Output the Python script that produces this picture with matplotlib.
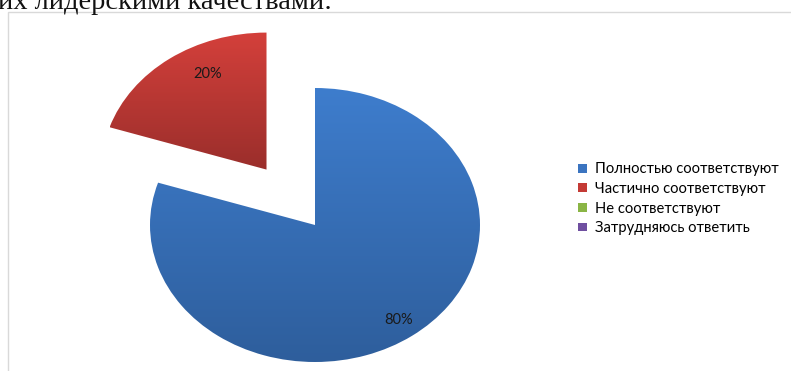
import numpy as np
import matplotlib
matplotlib.use("Agg")
import matplotlib.pyplot as plt
from matplotlib.patches import Patch, Rectangle
from matplotlib.colors import LinearSegmentedColormap

# data
categories = ["Полностью соответствуют", "Частично соответствуют",
              "Не соответствуют", "Затрудняюсь ответить"]
values = [80, 20, 0, 0]
legend_colors = ["#3b74c0", "#c43a35", "#8ab545", "#6f4fa0"]
grad_top = ["#3e7dcd", "#d4403b"]
grad_bottom = ["#2e5e9c", "#9a2e2b"]
explode = [0, 0.5]

W, H = 791, 371
fig = plt.figure(figsize=(W / 100, H / 100), dpi=100)

# cut-off heading line (as in the source, only its lower part is visible)
fig.text(-2 / W, 1 - 9 / H, "их лидерскими качествами:", family="Liberation Serif",
         fontsize=20.5, va="baseline", ha="left", color="#111111")

# chart area border
fig.patches.append(Rectangle((8 / W, -0.1), 1.2, 1 - 12 / H + 0.1,
                             transform=fig.transFigure, fill=False,
                             edgecolor="#d9d9d9", lw=1))

# pie axes (ellipse: rx 165px, ry 137px, centre at 315,225)
cx, cy, rx, ry = 315, 225, 165, 137
x0, x1, y0, y1 = -1.5, 1.1, -1.0, 1.5
ax = fig.add_axes([(cx + x0 * rx) / W, (H - cy - (-y0) * ry) / H,
                   (x1 - x0) * rx / W, (y1 - y0) * ry / H])
ax.axis("off")

vals = values[:2]
wedges, texts, autotexts = ax.pie(vals, startangle=90, counterclock=False,
                                  explode=explode, autopct="%d%%",
                                  pctdistance=0.86,
                                  textprops=dict(family="Lato", fontsize=10.5,
                                                 color="#1a1a1a"))

# vertical gradients
for i, w in enumerate(wedges):
    w.set_facecolor("none")
    w.set_edgecolor("none")
    bb = w.get_path().get_extents(w.get_patch_transform())
    cmap = LinearSegmentedColormap.from_list("g", [grad_bottom[i], grad_top[i]])
    grad = np.linspace(0, 1, 256).reshape(-1, 1)
    im = ax.imshow(grad, cmap=cmap, origin="lower", aspect="auto",
                   extent=[bb.x0, bb.x1, bb.y0, bb.y1], zorder=1)
    im.set_clip_path(w)
    autotexts[i].set_zorder(3)

# red label placed a bit further inside
t = np.deg2rad(117)
ox, oy = wedges[1].center
autotexts[1].set_position((ox + 0.78 * np.cos(t), oy + 0.78 * np.sin(t)))

ax.set_aspect("auto")
ax.set_xlim(x0, x1)
ax.set_ylim(y0, y1)

handles = [Patch(facecolor=c, edgecolor="none") for c in legend_colors]
fig.legend(handles, categories, loc="upper left",
           bbox_to_anchor=(574 / W, 1 - 158 / H), frameon=False,
           prop=dict(family="Lato", size=10.6), handlelength=0.55,
           handleheight=0.55, handletextpad=0.55, labelspacing=0.38,
           borderaxespad=0, borderpad=0.3)

fig.savefig("out.png", dpi=100)
